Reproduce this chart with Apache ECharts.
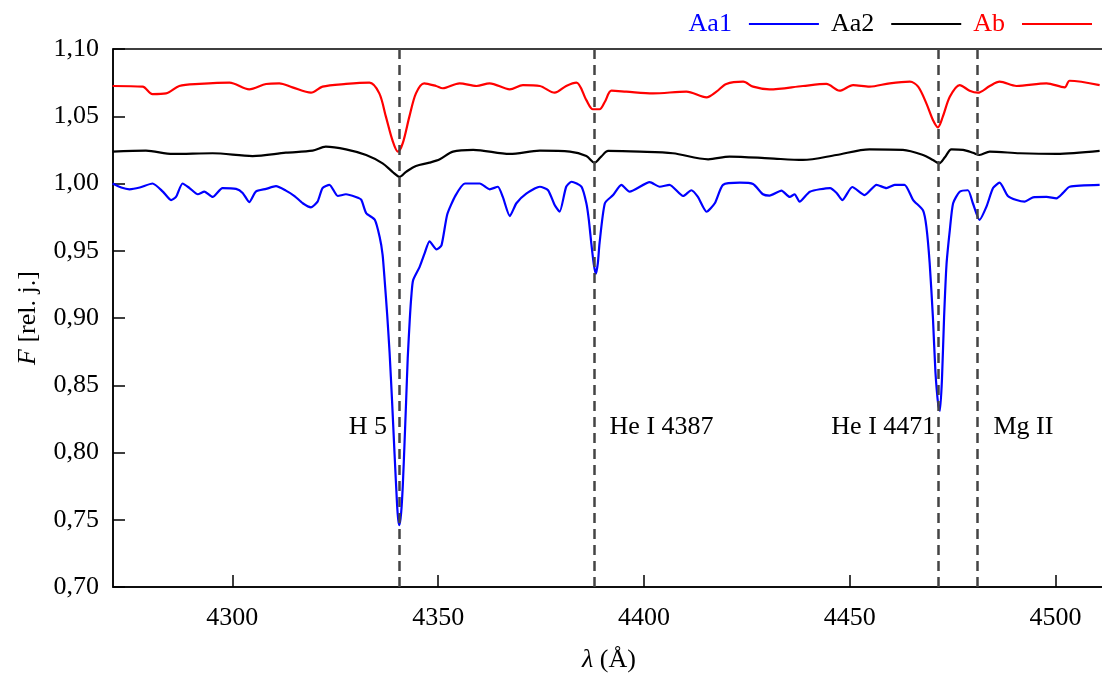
<!DOCTYPE html>
<html>
<head>
<meta charset="utf-8">
<script src="https://cdn.jsdelivr.net/npm/echarts@6/dist/echarts.min.js"></script>
<style>
html,body{margin:0;padding:0;background:#fff;}
#chart{width:1102px;height:674px;}
</style>
</head>
<body>
<div id="chart"></div>
<script>
// ---- data ----
const waveAa1 = [4270.9,4273,4275,4277.5,4280.6,4283.1,4285.1,4286.3,4287.9,4289.6,4291.6,4293.2,4295.2,4297.6,4300.9,4302.5,4304.1,4305.7,4308.2,4310.6,4313.0,4315.1,4317.1,4319.1,4320.7,4321.9,4323.6,4325.6,4327.6,4330.0,4331.3,4332.5,4334.6,4335.8,4336.5,4337.0,4337.6,4338.2,4338.8,4339.4,4340.0,4340.3,4340.6,4341.0,4341.4,4341.8,4342.2,4342.6,4343.1,4343.5,4343.9,4345.5,4346.7,4347.9,4349.6,4350.8,4352.2,4354.2,4356.5,4360.1,4362.5,4364.5,4365.7,4367.4,4369.0,4371.4,4374.7,4376.7,4378.3,4379.5,4381.1,4382.4,4384.8,4386.0,4386.6,4387.2,4387.8,4388.3,4388.8,4389.2,4390.5,4392.5,4394.5,4396.5,4401.4,4403.8,4406.2,4409.5,4411.5,4413.1,4415.2,4417.2,4419.2,4423.3,4426.5,4428.9,4430.5,4433.4,4435.4,4436.6,4437.8,4440.3,4445.2,4446.8,4448.2,4450.6,4453.6,4456.5,4458.9,4460.9,4463.3,4465.4,4467.8,4468.6,4469.4,4470.2,4470.8,4471.5,4471.9,4472.4,4472.9,4473.5,4474.3,4475.1,4476.7,4478.7,4479.9,4481.5,4483.2,4484.8,4486.4,4488.4,4490.5,4492.5,4494.5,4497.8,4500.2,4501.8,4503.4,4510.7];
const fluxAa1 = [1.000,0.997,0.9957,0.997,1.000,0.994,0.9877,0.990,1.000,0.9966,0.992,0.994,0.990,0.9966,0.996,0.993,0.9862,0.994,0.996,0.998,0.9947,0.9907,0.9853,0.9823,0.9865,0.9966,0.999,0.9907,0.992,0.990,0.988,0.978,0.973,0.960,0.947,0.928,0.903,0.874,0.838,0.799,0.762,0.750,0.746,0.755,0.775,0.805,0.837,0.870,0.899,0.917,0.928,0.938,0.948,0.957,0.951,0.954,0.977,0.991,1.000,1.000,0.9957,0.9976,0.990,0.9758,0.9853,0.9925,0.9976,0.995,0.984,0.979,0.9976,1.0013,0.9976,0.9853,0.973,0.9555,0.940,0.9327,0.941,0.9555,0.9853,0.9914,0.999,0.9939,1.001,0.9976,0.999,0.9907,0.995,0.990,0.979,0.9853,0.999,1.0006,0.9996,0.992,0.991,0.9947,0.990,0.992,0.9865,0.9939,0.9966,0.993,0.9877,0.9974,0.9914,0.999,0.9966,0.999,0.999,0.9877,0.980,0.968,0.941,0.900,0.860,0.835,0.831,0.855,0.900,0.940,0.9654,0.9853,0.9939,0.995,0.9853,0.9729,0.9828,0.9966,1.0006,0.9907,0.9877,0.9865,0.9897,0.990,0.989,0.993,0.9976,0.999];

const waveAa2 = [4270.9,4279.0,4285.5,4295.2,4304.9,4313.0,4319.5,4322.7,4327.6,4332.5,4336.5,4338.9,4340.6,4342.2,4344.6,4347.9,4350.4,4353.6,4358.5,4367.4,4374.7,4382.0,4386.0,4388.0,4389.6,4391.3,4399.0,4407.0,4415.6,4420.8,4430.5,4438.6,4446.7,4454.8,4462.9,4467.8,4470.2,4471.7,4473.1,4474.7,4477.5,4479.9,4481.5,4484.0,4491.3,4500.2,4510.7];
const fluxAa2 = [1.0237,1.0244,1.022,1.0225,1.0204,1.0229,1.0244,1.0274,1.0254,1.0212,1.015,1.0087,1.005,1.0087,1.013,1.0155,1.018,1.0237,1.025,1.022,1.0244,1.0237,1.0204,1.0155,1.020,1.0242,1.0237,1.0225,1.018,1.020,1.0187,1.0175,1.0212,1.0254,1.025,1.0212,1.0175,1.015,1.0195,1.0254,1.025,1.0229,1.0212,1.0237,1.0225,1.022,1.0242];

const waveAb = [4270.9,4278.2,4280.6,4283.9,4287.1,4292.0,4299.3,4304.1,4308.2,4311.4,4314.6,4319.1,4321.9,4327.6,4333.3,4335.7,4337.3,4338.9,4340.2,4341.4,4343.0,4344.6,4346.6,4349.5,4351.1,4355.2,4359.3,4362.5,4367.4,4370.6,4374.7,4378.3,4381.1,4383.6,4386.0,4387.6,4389.2,4390.5,4392.1,4395.7,4402.2,4410.3,4415.2,4417.6,4420.0,4424.1,4426.5,4430.5,4438.6,4444.3,4447.5,4450.8,4454.8,4459.7,4464.6,4466.6,4468.6,4470.2,4471.4,4472.6,4474.3,4476.7,4479.1,4481.1,4484.0,4486.4,4490.5,4497.8,4502.2,4503.4,4510.7];
const fluxAb = [1.0725,1.072,1.0665,1.067,1.0725,1.074,1.075,1.070,1.074,1.0745,1.0715,1.0675,1.072,1.074,1.075,1.067,1.0497,1.032,1.0237,1.030,1.0497,1.067,1.0745,1.0725,1.0708,1.0745,1.0725,1.0745,1.070,1.0732,1.0725,1.0675,1.0725,1.075,1.062,1.0552,1.0552,1.0608,1.069,1.0683,1.067,1.0683,1.064,1.0683,1.074,1.0757,1.072,1.070,1.0725,1.074,1.069,1.0732,1.072,1.0745,1.0757,1.072,1.0596,1.0472,1.0418,1.0497,1.0645,1.0732,1.069,1.0675,1.0725,1.0757,1.0725,1.0745,1.0715,1.0764,1.0732];

const lineWaves = [4340.5, 4388, 4471.5, 4481];
const lineLabels = ['H 5', 'He I 4387', 'He I 4471', 'Mg II'];
const labelFlux = 0.819;

const xTicks = [4300, 4350, 4400, 4450, 4500];
const seriesNames = ['Aa1', 'Aa2', 'Ab'];
const seriesColors = ['#0000ff', '#000000', '#ff0000'];

// ---- chart ----
const FONT = "'Liberation Serif','Times New Roman',serif";
const zip = (a, b) => a.map((v, i) => [v, b[i]]);

const labelSide = ['left', 'right', 'left', 'right'];
const labelDist = [12, 15, 3, 16];

const chart = echarts.init(document.getElementById('chart'), null, {renderer: 'canvas'});
chart.setOption({
  animation: false,
  backgroundColor: '#fff',
  textStyle: {fontFamily: FONT},
  grid: {left: 113, top: 49, right: -3, bottom: 87, show: true, borderColor: '#000', borderWidth: 1.5,
    containLabel: false, outerBoundsMode: 'none'},
  legend: {
    top: 6, right: 5, align: 'right', icon: 'rect', itemWidth: 70, itemHeight: 2, itemGap: 12,
    textStyle: {fontFamily: FONT, fontSize: 26, padding: [0, 12, 0, 0]},
    data: seriesNames.map((n, i) => ({name: n, icon: 'rect', itemStyle: {color: seriesColors[i]}, textStyle: {color: seriesColors[i]}}))
  },
  xAxis: {
    type: 'value', min: 4271, max: 4512,
    name: '{i|λ} (Å)', nameLocation: 'middle', nameGap: 60,
    nameTextStyle: {fontFamily: FONT, fontSize: 26, color: '#000', rich: {i: {fontStyle: 'italic', fontFamily: FONT, fontSize: 26}}},
    axisLine: {show: true, lineStyle: {color: '#000', width: 1.5}},
    axisTick: {show: true, inside: true, length: 12, lineStyle: {color: '#000', width: 1.5}, customValues: xTicks},
    axisLabel: {color: '#000', fontFamily: FONT, fontSize: 26, margin: 18, customValues: xTicks, formatter: v => String(v)},
    splitLine: {show: false}
  },
  yAxis: {
    type: 'value', min: 0.70, max: 1.10, interval: 0.05,
    name: '{i|F} [rel. j.]', nameLocation: 'middle', nameGap: 72,
    nameTextStyle: {fontFamily: FONT, fontSize: 26, color: '#000', rich: {i: {fontStyle: 'italic', fontFamily: FONT, fontSize: 26}}},
    axisLine: {show: true, lineStyle: {color: '#000', width: 1.5}},
    axisTick: {show: true, inside: true, length: 12, lineStyle: {color: '#000', width: 1.5}},
    axisLabel: {color: '#000', fontFamily: FONT, fontSize: 26, margin: 14,
      formatter: v => v.toFixed(2).replace('.', ',')},
    splitLine: {show: false}
  },
  series: [
    {name: 'Aa1', type: 'line', data: zip(waveAa1, fluxAa1), symbol: 'none', smooth: 0.2,
      lineStyle: {color: seriesColors[0], width: 2.2}, itemStyle: {color: seriesColors[0]}, z: 3},
    {name: 'Aa2', type: 'line', data: zip(waveAa2, fluxAa2), symbol: 'none', smooth: 0.3,
      lineStyle: {color: seriesColors[1], width: 2.2}, itemStyle: {color: seriesColors[1]}, z: 3},
    {name: 'Ab', type: 'line', data: zip(waveAb, fluxAb), symbol: 'none', smooth: 0.3,
      lineStyle: {color: seriesColors[2], width: 2.2}, itemStyle: {color: seriesColors[2]}, z: 3},
    {name: 'lines', type: 'scatter', symbolSize: 0, silent: true, z: 4,
      data: lineWaves.map((w, i) => ({
        value: [w, labelFlux],
        label: {show: true, position: labelSide[i], distance: labelDist[i], formatter: lineLabels[i],
          color: '#000', opacity: 1, textBorderWidth: 0, fontFamily: FONT, fontSize: 26}
      })),
      markLine: {silent: true, symbol: ['none', 'none'], label: {show: false},
        lineStyle: {type: [10, 6], color: '#444', width: 2.5, opacity: 1},
        data: lineWaves.map(w => ({xAxis: w}))}
    }
  ]
});
</script>
</body>
</html>
